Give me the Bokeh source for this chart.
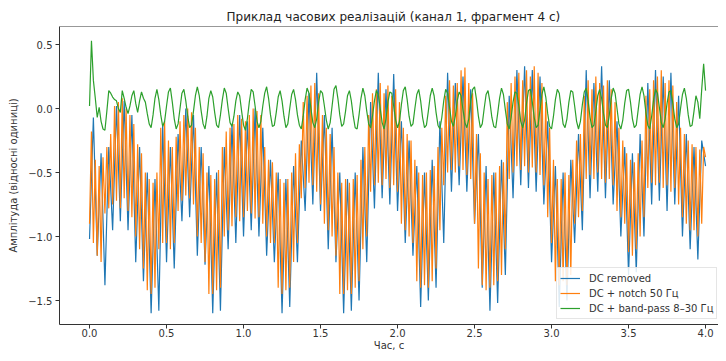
from bokeh.plotting import figure
from bokeh.models import FixedTicker, Span, Legend, LegendItem, ColumnDataSource
from bokeh.embed import file_html
from bokeh.resources import INLINE

TITLE = "Приклад часових реалізацій (канал 1, фрагмент 4 с)"
X_LABEL = "Час, с"
Y_LABEL = "Амплітуда (відносні одиниці)"
X_TICKS = [0.0, 0.5, 1.0, 1.5, 2.0, 2.5, 3.0, 3.5, 4.0]
X_TICK_LABELS = ["0.0", "0.5", "1.0", "1.5", "2.0", "2.5", "3.0", "3.5", "4.0"]
Y_TICKS = [0.5, 0.0, -0.5, -1.0, -1.5]
Y_TICK_LABELS = ["0.5", "0.0", "\u22120.5", "\u22121.0", "\u22121.5"]
SERIES_NAMES = ["DC removed", "DC + notch 50 Гц", "DC + band-pass 8–30 Гц"]

# "DC removed": one value every 0.025 s
dc_removed = [
    -1.02, -0.07, -1.15, -0.35, -1.38, -0.30, -0.95, 0.02, -0.88, 0.06,
    -0.95, -0.05, -1.20, -0.30, -1.35, -0.50, -1.60, -0.55, -1.58, -0.12,
    -1.20, -0.30, -1.25, -0.20, -0.88, 0.00, -0.85, -0.05, -1.15, -0.30,
    -1.22, -0.45, -1.60, -0.50, -1.58, -0.30, -1.10, -0.12, -1.05, -0.05,
    -1.00, -0.10, -0.95, 0.00, -1.00, -0.15, -1.15, -0.40, -1.20, -0.50,
    -1.60, -0.55, -1.55, -0.45, -1.20, -0.25, -0.80, 0.12, -0.75, 0.28,
    -0.80, -0.05, -1.10, -0.15, -1.20, -0.50, -1.60, -0.55, -1.58, -0.50,
    -1.50, -0.30, -1.20, 0.05, -0.78, 0.28, -0.70, 0.15, -0.75, 0.27,
    -0.80, -0.10, -1.05, -0.25, -1.15, -0.45, -1.55, -0.50, -1.50, -0.40,
    -1.40, -0.10, -1.05, 0.28, -0.65, 0.20, -0.60, 0.25, -0.65, 0.15,
    -0.90, -0.20, -1.40, -0.45, -1.58, -0.50, -1.52, -0.40, -1.30, 0.10,
    -0.70, 0.30, -0.60, 0.33, -0.62, 0.30, -0.65, 0.25, -0.75, -0.10,
    -1.20, -0.45, -1.55, -0.50, -1.50, -0.40, -1.05, -0.20, -0.95, 0.30,
    -0.70, 0.20, -0.65, 0.33, -0.70, 0.22, -0.75, -0.10, -1.00, -0.30,
    -1.30, -0.35, -1.28, -0.20, -1.00, 0.20, -0.75, 0.30, -0.72, 0.25,
    -0.80, 0.28, -0.75, 0.10, -1.00, -0.20, -1.10, -0.30, -1.18, -0.25,
    -0.45,
]
# "DC + notch 50 Гц": one value every 0.0125 s (8 values per row = 0.1 s)
dc_notch = [
    -0.90, -0.18, -1.05, -0.40, -1.15, -0.45, -1.20, -0.38,
    -0.82, -0.30, -0.78, -0.20, -0.75, 0.02, -0.72, 0.05,
    -0.78, 0.08, -0.70, 0.00, -0.80, -0.05, -0.85, -0.12,
    -1.00, -0.28, -1.10, -0.35, -1.25, -0.50, -1.42, -0.55,
    -1.45, -0.58, -1.40, -0.50, -1.10, -0.15, -1.05, -0.10,
    -1.05, -0.25, -1.10, -0.30, -1.05, -0.22, -0.80, -0.10,
    -0.72, -0.05, -0.68, 0.00, -0.70, -0.03, -0.75, -0.15,
    -1.00, -0.30, -1.05, -0.35, -1.20, -0.50, -1.45, -0.52,
    -1.45, -0.55, -1.42, -0.48, -1.40, -0.30, -1.00, -0.18,
    -0.95, -0.15, -0.92, -0.12, -0.85, -0.05, -0.88, -0.08,
    -0.85, -0.10, -0.80, -0.05, -0.82, 0.00, -0.86, -0.02,
    -0.85, -0.05, -0.90, -0.30, -1.00, -0.40, -1.05, -0.42,
    -1.05, -0.50, -1.40, -0.55, -1.45, -0.58, -1.42, -0.55,
    -1.40, -0.50, -1.20, -0.35, -1.05, -0.28, -0.70, 0.05,
    -0.62, 0.10, -0.58, 0.18, -0.60, 0.20, -0.65, 0.12,
    -0.75, -0.05, -0.90, -0.15, -0.95, -0.20, -1.00, -0.30,
    -1.15, -0.50, -1.45, -0.58, -1.45, -0.55, -1.42, -0.58,
    -1.45, -0.55, -1.40, -0.52, -1.35, -0.40, -1.10, -0.30,
    -1.00, -0.05, -0.65, 0.12, -0.60, 0.15, -0.58, 0.20,
    -0.60, 0.12, -0.55, 0.18, -0.62, 0.10, -0.60, 0.15,
    -0.65, 0.05, -0.90, -0.15, -0.95, -0.20, -1.00, -0.25,
    -1.05, -0.40, -1.35, -0.50, -1.40, -0.52, -1.38, -0.50,
    -1.40, -0.48, -1.35, -0.45, -1.25, -0.30, -0.95, -0.15,
    -0.60, 0.10, -0.50, 0.22, -0.48, 0.18, -0.50, 0.20,
    -0.45, 0.30, -0.48, 0.32, -0.52, 0.20, -0.55, 0.12,
    -0.90, -0.20, -1.25, -0.35, -1.38, -0.50, -1.42, -0.55,
    -1.40, -0.52, -1.38, -0.50, -1.35, -0.45, -1.30, -0.42,
    -1.10, 0.05, -0.55, 0.20, -0.50, 0.25, -0.45, 0.28,
    -0.48, 0.22, -0.45, 0.30, -0.50, 0.25, -0.46, 0.33,
    -0.50, 0.28, -0.52, 0.20, -0.60, 0.05, -0.85, -0.15,
    -1.05, -0.40, -1.35, -0.55, -1.38, -0.55, -1.35, -0.50,
    -1.38, -0.52, -1.30, -0.40, -0.90, -0.25, -0.85, -0.20,
    -0.80, 0.10, -0.55, 0.22, -0.52, 0.15, -0.55, 0.25,
    -0.50, 0.20, -0.55, 0.18, -0.58, 0.22, -0.55, 0.15,
    -0.60, 0.05, -0.80, -0.15, -0.85, -0.25, -0.90, -0.35,
    -1.12, -0.40, -1.15, -0.42, -1.10, -0.35, -1.00, -0.25,
    -0.85, 0.10, -0.62, 0.15, -0.58, 0.22, -0.60, 0.25,
    -0.58, 0.30, -0.62, 0.20, -0.60, 0.22, -0.65, 0.18,
    -0.62, 0.05, -0.75, -0.15, -0.85, -0.20, -0.90, -0.25,
    -0.95, -0.28, -0.95, -0.30, -1.00, -0.32, -0.90, -0.30,
    -0.38,
]
# "DC + band-pass 8–30 Гц": one value every 0.0125 s (8 values per row = 0.1 s)
dc_bandpass = [
    0.02, 0.53, 0.22, 0.08, -0.07, 0.01, -0.10, -0.16,
    -0.17, -0.02, 0.14, 0.12, 0.09, 0.07, 0.06, 0.00,
    -0.03, 0.14, 0.08, 0.01, -0.04, 0.02, 0.10, 0.14,
    0.04, -0.03, 0.06, 0.13, 0.08, 0.05, -0.04, -0.12,
    -0.15, -0.05, 0.08, 0.15, 0.07, -0.05, -0.14, -0.10,
    0.02, 0.13, 0.16, 0.05, -0.08, -0.16, -0.12, 0.00,
    0.12, 0.15, 0.06, -0.06, -0.15, -0.13, -0.02, 0.10,
    0.17, 0.10, -0.02, -0.12, -0.16, -0.06, 0.08, 0.14,
    0.09, -0.03, -0.13, -0.15, -0.05, 0.07, 0.16, 0.12,
    0.00, -0.11, -0.14, -0.06, 0.06, 0.13, 0.10, -0.02,
    -0.13, -0.17, -0.08, 0.05, 0.15, 0.13, 0.02, -0.10,
    -0.15, -0.10, 0.02, 0.12, 0.17, 0.08, -0.05, -0.14,
    -0.13, -0.03, 0.09, 0.14, 0.06, -0.06, -0.15, -0.12,
    0.00, 0.11, 0.15, 0.07, -0.05, -0.13, -0.16, -0.06,
    0.07, 0.16, 0.12, 0.00, -0.11, -0.15, -0.08, 0.05,
    0.14, 0.12, 0.02, -0.09, -0.16, -0.11, 0.02, 0.15,
    0.18, 0.08, -0.05, -0.14, -0.12, -0.02, 0.10, 0.14,
    0.06, -0.06, -0.15, -0.16, -0.05, 0.08, 0.16, 0.10,
    -0.02, -0.12, -0.15, -0.06, 0.06, 0.14, 0.11, 0.00,
    -0.11, -0.16, -0.08, 0.05, 0.13, 0.12, 0.02, -0.09,
    -0.15, -0.10, 0.03, 0.14, 0.17, 0.07, -0.06, -0.14,
    -0.12, 0.00, 0.11, 0.15, 0.06, -0.07, -0.15, -0.13,
    -0.02, 0.10, 0.16, 0.10, -0.03, -0.13, -0.16, -0.07,
    0.06, 0.15, 0.12, 0.01, -0.10, -0.14, -0.06, 0.06,
    0.13, 0.10, -0.01, -0.11, -0.15, -0.08, 0.05, 0.15,
    0.17, 0.07, -0.06, -0.15, -0.12, 0.00, 0.11, 0.14,
    0.05, -0.07, -0.14, -0.15, -0.04, 0.08, 0.16, 0.11,
    -0.01, -0.12, -0.16, -0.07, 0.05, 0.13, 0.12, 0.02,
    -0.10, -0.15, -0.09, 0.04, 0.14, 0.15, 0.05, -0.07,
    -0.15, -0.13, -0.01, 0.11, 0.17, 0.09, -0.04, -0.14,
    -0.16, -0.06, 0.07, 0.15, 0.12, 0.00, -0.12, -0.15,
    -0.08, 0.05, 0.14, 0.13, 0.02, -0.10, -0.16, -0.10,
    0.03, 0.13, 0.16, 0.06, -0.07, -0.15, -0.13, -0.02,
    0.10, 0.15, 0.08, -0.04, -0.13, -0.15, -0.05, 0.08,
    0.16, 0.12, 0.00, -0.12, -0.16, -0.09, 0.04, 0.14,
    0.15, 0.05, -0.08, -0.15, -0.13, -0.01, 0.11, 0.17,
    0.10, -0.03, -0.13, -0.16, -0.06, 0.07, 0.15, 0.12,
    0.01, -0.11, -0.15, -0.08, 0.04, 0.13, 0.14, 0.04,
    -0.08, -0.15, -0.12, 0.00, 0.11, 0.16, 0.08, -0.05,
    -0.14, -0.13, -0.02, 0.10, 0.05, -0.08, 0.15, 0.35,
    0.14,
]
STEP_COARSE = 0.025
STEP_FINE = 0.0125
time_coarse = [round(STEP_COARSE * i, 4) for i in range(len(dc_removed))]
time_fine = [round(STEP_FINE * i, 4) for i in range(len(dc_notch))]

COLORS = ["#1f77b4", "#ff7f0e", "#2ca02c"]
FONT = "DejaVu Sans"
AX_COLOR = "#333333"
X_START, X_END = -0.195, 4.084
Y_START, Y_END = -1.6875, 0.641

p = figure(width=718, height=353, x_range=(X_START, X_END), y_range=(Y_START, Y_END),
           output_backend="svg", toolbar_location=None,
           min_border_left=59, min_border_right=0, min_border_top=26, min_border_bottom=29)
p.background_fill_color = "white"
p.border_fill_color = "white"
p.outline_line_color = None
p.grid.visible = False

p.title.text = TITLE
p.title.text_font = FONT
p.title.text_font_size = "12px"
p.title.text_font_style = "normal"
p.title.text_color = "#222222"
p.title.align = "left"
p.title.offset = 167
p.title.standoff = 6

src_c = ColumnDataSource(dict(t=time_coarse, v=dc_removed))
src_f = ColumnDataSource(dict(t=time_fine, b=dc_notch, c=dc_bandpass))
r1 = p.line("t", "v", source=src_c, line_color=COLORS[0], line_width=1.2)
r2 = p.line("t", "b", source=src_f, line_color=COLORS[1], line_width=1.2)
r3 = p.line("t", "c", source=src_f, line_color=COLORS[2], line_width=1.2)

for ax, ticks, labels, lab in ((p.xaxis[0], X_TICKS, X_TICK_LABELS, X_LABEL),
                                (p.yaxis[0], Y_TICKS, Y_TICK_LABELS, Y_LABEL)):
    ax.ticker = FixedTicker(ticks=ticks)
    ax.major_label_overrides = {tk: lb for tk, lb in zip(ticks, labels)}
    ax.minor_tick_line_color = None
    ax.major_tick_in = 0
    ax.major_tick_out = 4
    ax.major_tick_line_color = AX_COLOR
    ax.axis_line_color = AX_COLOR
    ax.major_label_text_font = FONT
    ax.major_label_text_font_size = "10px"
    ax.major_label_text_color = "#333333"
    ax.major_label_standoff = 3
    ax.axis_label = lab
    ax.axis_label_text_font = FONT
    ax.axis_label_text_font_size = "10px"
    ax.axis_label_text_font_style = "normal"
    ax.axis_label_text_color = "#333333"
p.xaxis[0].major_label_standoff = 0
p.xaxis[0].axis_label_standoff = 0
p.yaxis[0].axis_label_standoff = 6

p.add_layout(Span(location=Y_END, dimension="width", line_color=AX_COLOR, line_width=1))

legend = Legend(items=[LegendItem(label=SERIES_NAMES[0], renderers=[r1]),
                       LegendItem(label=SERIES_NAMES[1], renderers=[r2]),
                       LegendItem(label=SERIES_NAMES[2], renderers=[r3])],
                location=(497, 5))
legend.label_text_font = FONT
legend.label_text_font_size = "10px"
legend.label_text_color = "#333333"
legend.glyph_width = 20
legend.glyph_height = 14
legend.label_height = 14
legend.label_standoff = 9
legend.spacing = 1
legend.padding = 3
legend.margin = 0
legend.border_line_color = "#cccccc"
legend.background_fill_alpha = 0.85
p.add_layout(legend)

open("out.html", "w").write(file_html(p, INLINE))
